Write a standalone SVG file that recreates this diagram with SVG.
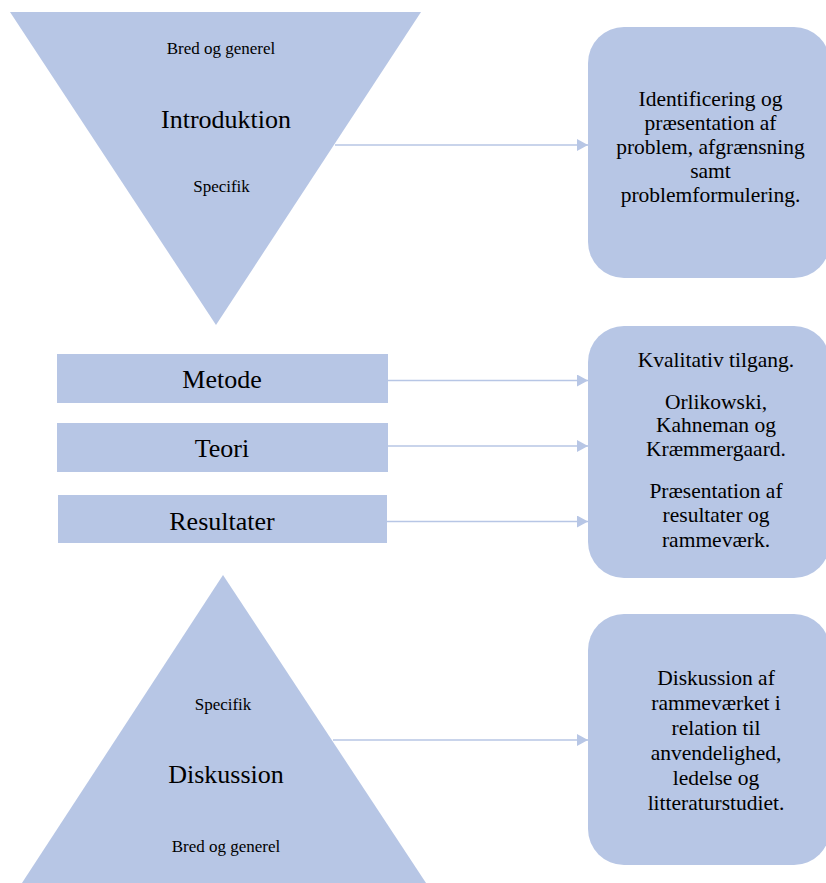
<svg xmlns="http://www.w3.org/2000/svg" width="826" height="883" viewBox="0 0 826 883">
<style>
.shape{fill:#b7c6e5;}
.conn{stroke:#b7c6e5;stroke-width:1.5;fill:none;}
text{font-family:"Liberation Serif","Times New Roman",serif;fill:#000;text-anchor:middle;}
.s{font-size:17px;}
.m{font-size:26px;}
.b{font-size:21.5px;}
</style>
<defs>
<marker id="arr" markerUnits="userSpaceOnUse" markerWidth="12" markerHeight="13" refX="11" refY="6" orient="auto">
<path d="M0,0 L11,6 L0,12 Z" fill="#b7c6e5"/>
</marker>
</defs>
<g id="connectors">
<line class="conn" x1="335" y1="145" x2="588" y2="145" marker-end="url(#arr)"/>
<line class="conn" x1="388" y1="380.5" x2="588" y2="380.5" marker-end="url(#arr)"/>
<line class="conn" x1="388" y1="446" x2="588" y2="446" marker-end="url(#arr)"/>
<line class="conn" x1="387" y1="521.5" x2="588" y2="521.5" marker-end="url(#arr)"/>
<line class="conn" x1="333" y1="740" x2="588" y2="740" marker-end="url(#arr)"/>
</g>
<g id="introduktion">
<polygon class="shape" points="10,12 421,12 216,325"/>
<text class="s" x="221" y="54">Bred og generel</text>
<text class="m" x="226" y="128">Introduktion</text>
<text class="s" x="221.5" y="192">Specifik</text>
</g>
<g id="box-intro">
<rect class="shape" x="588" y="27" width="242" height="251" rx="36" ry="36"/>
<text class="b" x="710.5" y="105.5">Identificering og</text>
<text class="b" x="710.5" y="129.5">præsentation af</text>
<text class="b" x="710.5" y="153.5">problem, afgrænsning</text>
<text class="b" x="710.5" y="177.5">samt</text>
<text class="b" x="710.5" y="201.5">problemformulering.</text>
</g>
<g id="metode">
<rect class="shape" x="57" y="354" width="331" height="49"/>
<text class="m" x="222" y="388">Metode</text>
</g>
<g id="teori">
<rect class="shape" x="57" y="423" width="331" height="49"/>
<text class="m" x="222" y="457">Teori</text>
</g>
<g id="resultater">
<rect class="shape" x="58" y="495" width="329" height="48"/>
<text class="m" x="222" y="530">Resultater</text>
</g>
<g id="box-middle">
<rect class="shape" x="588" y="326" width="242" height="252" rx="36" ry="36"/>
<text class="b" x="716" y="367">Kvalitativ tilgang.</text>
<text class="b" x="716" y="409">Orlikowski,</text>
<text class="b" x="716" y="432">Kahneman og</text>
<text class="b" x="716" y="456">Kræmmergaard.</text>
<text class="b" x="716" y="498">Præsentation af</text>
<text class="b" x="716" y="522">resultater og</text>
<text class="b" x="716" y="547">rammeværk.</text>
</g>
<g id="diskussion">
<polygon class="shape" points="223,575 20,886 428,886"/>
<text class="s" x="223" y="710">Specifik</text>
<text class="m" x="226" y="783">Diskussion</text>
<text class="s" x="226" y="852">Bred og generel</text>
</g>
<g id="box-diskussion">
<rect class="shape" x="588" y="614" width="242" height="251" rx="36" ry="36"/>
<text class="b" x="716" y="685">Diskussion af</text>
<text class="b" x="716" y="710">rammeværket i</text>
<text class="b" x="716" y="735">relation til</text>
<text class="b" x="716" y="760">anvendelighed,</text>
<text class="b" x="716" y="785">ledelse og</text>
<text class="b" x="716" y="810">litteraturstudiet.</text>
</g>
</svg>
